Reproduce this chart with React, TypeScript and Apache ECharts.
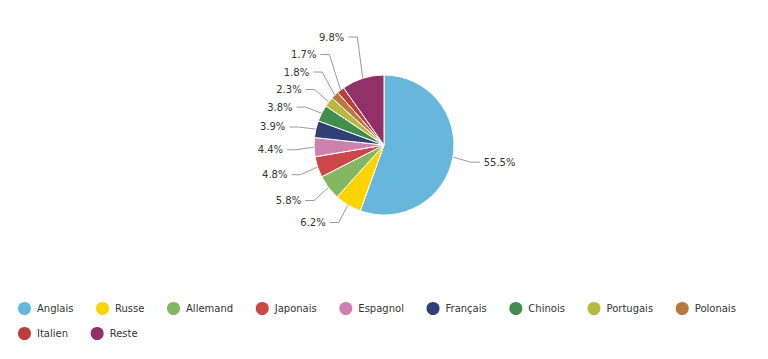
import React, { useEffect, useRef } from "react";
import * as echarts from "echarts";

const languages = ["Anglais", "Russe", "Allemand", "Japonais", "Espagnol", "Français", "Chinois", "Portugais", "Polonais", "Italien", "Reste"];
const shares = [55.5, 6.2, 5.8, 4.8, 4.4, 3.9, 3.8, 2.3, 1.8, 1.7, 9.8];
const colors = ["#67b7dc", "#fdd400", "#84b761", "#cc4748", "#cd82ad", "#2f4074", "#448e4d", "#b7b83f", "#b9783f", "#b93e3d", "#913167"];
const legendRow1 = languages.slice(0, 9);
const legendRow2 = languages.slice(9);

// pie geometry
const CX = 384;
const CY = 145;
const R = 70;
const LABEL_R = 88; // where the tick bends
const LABEL_DY = 2; // labels sit slightly below the radial point
const TICK_H = 9; // horizontal part of the tick
const TEXT_GAP = 4;
const LABEL_SPACING = 17.5;

type LabelPos = { x: number; y: number; align: "left" | "right"; points: number[][] };

// amCharts-like outer label layout: bends at natural angle, labels stacked upward from the bottom
function computeLabels(values: number[]): LabelPos[] {
  const total = values.reduce((a, b) => a + b, 0);
  let cum = 0;
  const items = values.map((v, i) => {
    const theta = (2 * Math.PI * (cum + v / 2)) / total;
    cum += v;
    const sx = Math.sin(theta);
    const sy = -Math.cos(theta);
    return {
      i,
      left: sx < 0,
      edge: [CX + R * sx, CY + R * sy],
      bx: CX + LABEL_R * sx,
      natY: CY + LABEL_R * sy + LABEL_DY,
      y: 0,
    };
  });
  const leftItems = items.filter((d) => d.left).sort((a, b) => b.natY - a.natY);
  let prev = Infinity;
  leftItems.forEach((d) => {
    d.y = Math.min(d.natY, prev - LABEL_SPACING);
    prev = d.y;
  });
  const rightItems = items.filter((d) => !d.left).sort((a, b) => a.natY - b.natY);
  prev = -Infinity;
  rightItems.forEach((d) => {
    d.y = Math.max(d.natY, prev + LABEL_SPACING);
    prev = d.y;
  });
  const out: LabelPos[] = [];
  items.forEach((d) => {
    const dir = d.left ? -1 : 1;
    const hx = d.bx + dir * TICK_H;
    out[d.i] = {
      x: hx + dir * TEXT_GAP,
      y: d.y,
      align: d.left ? "right" : "left",
      points: [d.edge, [d.bx, d.y], [hx, d.y]],
    };
  });
  return out;
}

export default function App() {
  const ref = useRef<HTMLDivElement>(null);
  useEffect(() => {
    if (!ref.current) return;
    const chart = echarts.init(ref.current, null, { renderer: "svg" });
    const font = "DejaVu Sans, Verdana, sans-serif";
    const labels = computeLabels(shares);
    const legendCommon = {
      orient: "horizontal" as const,
      icon: "circle",
      itemWidth: 15,
      itemHeight: 15,
      itemGap: 20.6,
      padding: 0,
      textStyle: { fontFamily: font, fontSize: 10, color: "#333" },
    };
    chart.setOption({
      animation: false,
      backgroundColor: "#ffffff",
      color: colors,
      legend: [
        { ...legendCommon, left: 16, top: 300, data: legendRow1 },
        { ...legendCommon, left: 16, top: 325, data: legendRow2 },
      ],
      series: [
        {
          type: "pie",
          center: [CX, CY],
          radius: R,
          startAngle: 90,
          clockwise: true,
          avoidLabelOverlap: false,
          data: languages.map((name, i) => ({ name, value: shares[i] })),
          itemStyle: { borderColor: "#ffffff", borderWidth: 1 },
          label: {
            show: true,
            formatter: (p: any) => p.value.toFixed(1) + "%",
            fontFamily: font,
            fontSize: 10,
            color: "#333",
          },
          labelLine: {
            show: true,
            length: 15,
            length2: 8,
            lineStyle: { color: "#999999", width: 1 },
          },
          labelLayout: (params: any) => {
            const l = labels[params.dataIndex];
            return {
              x: l.x,
              y: l.y,
              align: l.align,
              verticalAlign: "middle",
              labelLinePoints: l.points,
            };
          },
          emphasis: { disabled: true },
        },
      ],
    });
    return () => chart.dispose();
  }, []);
  return <div ref={ref} style={{ position: "fixed", left: 0, top: 0, width: 768, height: 359 }} />;
}
